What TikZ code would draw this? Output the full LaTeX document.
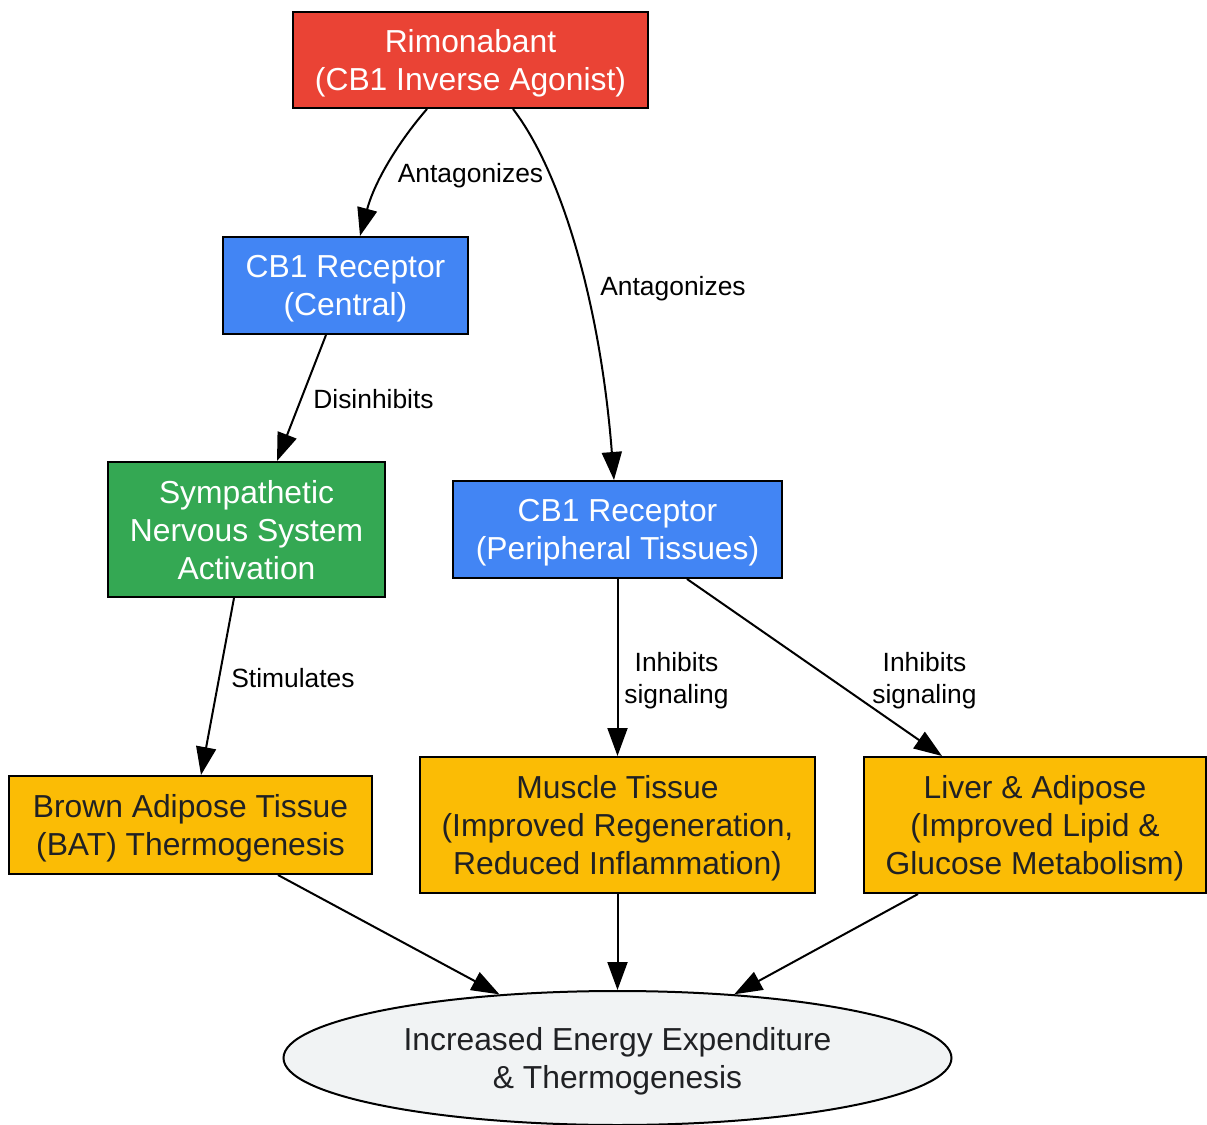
\documentclass[tikz,border=0pt]{standalone}
\usepackage{fontspec}
\setmainfont{Liberation Sans}
\usetikzlibrary{arrows.meta,shapes.geometric}
\definecolor{drugred}{HTML}{EA4335}
\definecolor{recblue}{HTML}{4285F4}
\definecolor{nervgreen}{HTML}{34A853}
\definecolor{tissueyellow}{HTML}{FBBC05}
\definecolor{outgrey}{HTML}{F1F3F4}
\definecolor{inkdark}{HTML}{202124}
\tikzset{
	box/.style={draw=black, line width=1pt, rectangle, inner sep=0pt, align=center,
		text depth=-1.2pt, font=\fontsize{15.9}{19}\selectfont},
	lightbox/.style={box, text=white},
	darkbox/.style={box, fill=tissueyellow, text=inkdark},
	outcome/.style={draw=black, line width=1pt, ellipse, inner sep=0pt, align=center,
		fill=outgrey, text=inkdark, minimum width=334pt, minimum height=67pt,
		text depth=-4pt, font=\fontsize{15.9}{19}\selectfont},
	lbl/.style={align=center, inner sep=0pt, text depth=0pt, font=\fontsize{13.2}{16}\selectfont},
	link/.style={line width=1pt, -{Triangle[length=14pt,width=10pt]}}
}

\begin{document}
\begin{tikzpicture}[x=0.5pt, y=-0.5pt]
			%%%%% START %%%%%
			\useasboundingbox (0, 0) rectangle (1207, 1125);
			
			\node[lightbox, fill=drugred, minimum width=177.5pt, minimum height=48pt] (rimo) at (470.5, 60) {Rimonabant\\(CB1 Inverse Agonist)};
			
			\node[lightbox, fill=recblue, minimum width=122.5pt, minimum height=48.5pt] (cbcen) at (345.5, 285.5) {CB1 Receptor\\(Central)};
			\node[lightbox, fill=recblue, minimum width=164.5pt, minimum height=48.5pt] (cbper) at (617.5, 529.5) {CB1 Receptor\\(Peripheral Tissues)};
			
			\node[lightbox, fill=nervgreen, minimum width=138.5pt, minimum height=67.5pt] (sns) at (246.5, 529.5) {Sympathetic\\Nervous System\\Activation};
			
			\node[darkbox, minimum width=181.5pt, minimum height=49pt] (bat) at (190.5, 825) {Brown Adipose Tissue\\(BAT) Thermogenesis};
			\node[darkbox, minimum width=197.5pt, minimum height=68pt] (muscle) at (617.5, 825) {Muscle Tissue\\(Improved Regeneration,\\Reduced Inflammation)};
			\node[darkbox, minimum width=171pt, minimum height=68pt] (liver) at (1035, 825) {Liver \& Adipose\\(Improved Lipid \&\\Glucose Metabolism)};
			
			\node[outcome] (energy) at (617.5, 1058) {Increased Energy Expenditure\\\& Thermogenesis};
			
			% edges
			\draw[link] ([xshift=-21.75pt]rimo.south) .. controls (400, 140) and (375, 180) .. ([xshift=7.25pt]cbcen.north);
			\draw[link] ([xshift=21.25pt]rimo.south) .. controls (560, 170) and (600, 300) .. ([xshift=-1.75pt]cbper.north);
			\draw[link] ([xshift=-9.75pt]cbcen.south) -- ([xshift=15.25pt]sns.north);
			\draw[link] ([xshift=-6.25pt]sns.south) -- ([xshift=5.25pt]bat.north);
			\draw[link] (cbper.south) -- (muscle.north);
			\draw[link] ([xshift=34.75pt]cbper.south) -- ([xshift=-46.5pt]liver.north);
			\draw[link] ([xshift=43.75pt]bat.south) -- (energy);
			\draw[link] (muscle.south) -- (energy.north);
			\draw[link] ([xshift=-58.5pt]liver.south) -- (energy);
			
			% edge labels
			\node[lbl] (antcen) at (470.5, 173) {Antagonizes};
			\node[lbl] (antper) at (673, 286) {Antagonizes};
			\node[lbl] (disinh) at (373.5, 399) {Disinhibits};
			\node[lbl] (stim) at (293, 678) {Stimulates};
			\node[lbl] (inhmus) at (676.5, 678) {Inhibits\\signaling};
			\node[lbl] (inhliv) at (924.5, 678) {Inhibits\\signaling};
			%%%%% END %%%%%
\end{tikzpicture}
\end{document}
